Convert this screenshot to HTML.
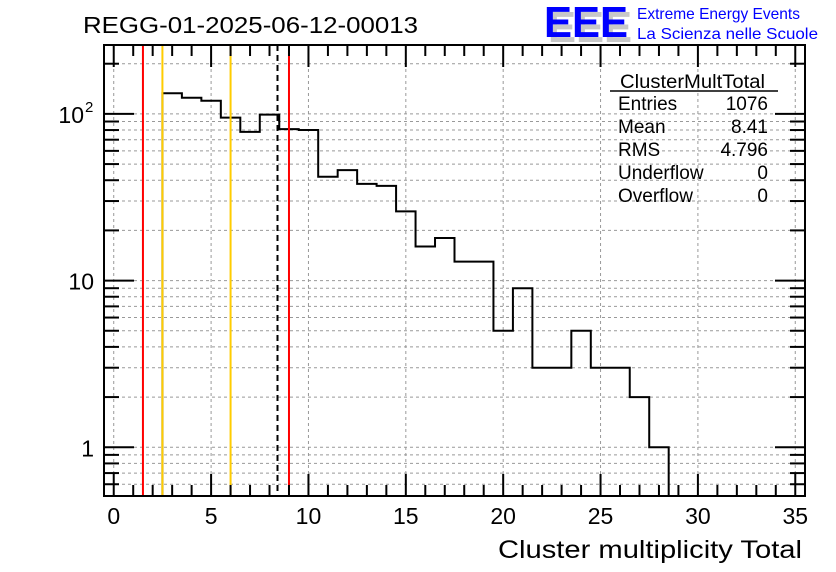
<!DOCTYPE html>
<html><head><meta charset="utf-8"><style>
body{margin:0;background:#fff;}
svg{display:block;font-family:"Liberation Sans",Arial,sans-serif;}
</style></head><body>
<svg id="c" width="836" height="572">
<text x="83" y="33" font-size="23" textLength="335" lengthAdjust="spacingAndGlyphs">REGG-01-2025-06-12-00013</text>
<g>
<text x="548" y="42" font-size="44" font-weight="bold" fill="#c8c8c8" textLength="84" lengthAdjust="spacingAndGlyphs">EEE</text>
<text x="544" y="37" font-size="44" font-weight="bold" fill="#0000ff" textLength="84" lengthAdjust="spacingAndGlyphs">EEE</text>
<text x="637" y="19" font-size="16" fill="#0000ff" textLength="163" lengthAdjust="spacingAndGlyphs">Extreme Energy Events</text>
<text x="637" y="39" font-size="16" fill="#0000ff" textLength="181" lengthAdjust="spacingAndGlyphs">La Scienza nelle Scuole</text>
</g>
<g id="grid"></g>
<g id="marks"></g>
<g id="axes"></g>
<g font-size="19">
<text x="620" y="88" textLength="145" lengthAdjust="spacingAndGlyphs">ClusterMultTotal</text>
<line x1="610" y1="91" x2="778" y2="91" stroke="#000" stroke-width="1.5"/>
<text x="618" y="110">Entries</text><text x="768" y="110" text-anchor="end">1076</text>
<text x="618" y="133">Mean</text><text x="768" y="133" text-anchor="end">8.41</text>
<text x="618" y="156">RMS</text><text x="768" y="156" text-anchor="end">4.796</text>
<text x="618" y="179">Underflow</text><text x="768" y="179" text-anchor="end">0</text>
<text x="618" y="202">Overflow</text><text x="768" y="202" text-anchor="end">0</text>
</g>
<text x="802" y="558" font-size="25" text-anchor="end" textLength="304" lengthAdjust="spacingAndGlyphs">Cluster multiplicity Total</text>
</svg>
<script>
const binCenters=[3,4,5,6,7,8,9,10,11,12,13,14,15,16,17,18,19,20,21,22,23,24,25,26,27,28];
const binCounts=[133,125,120,95,78,99,81,80,42,46,38,37,26,16,18,13,13,5,9,3,3,5,3,3,2,1];
const xTicks=[0,5,10,15,20,25,30,35];
const yTicks=[1,10,100];
const yTickBase=["1","10","10"];
const yTickExp=["","","2"];
const vLines=[{x:1.5,c:"#ff0000",d:""},{x:2.5,c:"#ffcc00",d:""},{x:6,c:"#ffcc00",d:""},{x:8.41,c:"#000",d:"6,4"},{x:9,c:"#ff0000",d:""}];

const L=104,R=805,T=45,B=496,X0=-0.5,X1=35.5,Y0=Math.log10(0.51),Y1=Math.log10(259);
const sx=v=>L+(v-X0)/(X1-X0)*(R-L);
const sy=v=>B-(Math.log10(v)-Y0)/(Y1-Y0)*(B-T);
const NS="http://www.w3.org/2000/svg";
function mk(p,t,a){const e=document.createElementNS(NS,t);for(const k in a)e.setAttribute(k,a[k]);p.appendChild(e);return e;}
const grid=document.getElementById('grid'),marks=document.getElementById('marks'),axes=document.getElementById('axes');
xTicks.forEach(t=>{const g=mk(grid,'line',{x1:sx(t),x2:sx(t),y1:T,y2:B,stroke:'#999','stroke-dasharray':'3,3','stroke-width':1});

});
const minors=[];
for(let d=-1;d<=2;d++)for(let m=1;m<=9;m++){const v=m*Math.pow(10,d);if(v>=0.51&&v<=259)minors.push(v);}
minors.forEach(v=>{const g=mk(grid,'line',{x1:L,x2:R,y1:sy(v),y2:sy(v),stroke:'#999','stroke-dasharray':'3,3','stroke-width':1});


const major=[1,10,100].includes(v);
const t1=mk(axes,'line',{x1:L,x2:L+(major?30:15),y1:sy(v),y2:sy(v),stroke:'#000','stroke-width':2});


const t2=mk(axes,'line',{x1:R,x2:R-(major?30:15),y1:sy(v),y2:sy(v),stroke:'#000','stroke-width':2});

});
let d=`M${sx(binCenters[0]-0.5)},${B}`;
binCenters.forEach((c,i)=>{d+=` L${sx(c-0.5)},${sy(binCounts[i])} L${sx(c+0.5)},${sy(binCounts[i])}`;});
d+=` L${sx(binCenters[binCenters.length-1]+0.5)},${B}`;
const h=mk(marks,'path',{d:d,fill:'none',stroke:'#000','stroke-width':2});


vLines.forEach(l=>{const e=mk(marks,'line',{x1:sx(l.x),x2:sx(l.x),y1:T,y2:B,stroke:l.c,'stroke-width':2,'stroke-dasharray':l.d});

});
const f=mk(axes,'rect',{x:L,y:T,width:R-L,height:B-T,fill:'none',stroke:'#000','stroke-width':2});


for(let t=0;t<=35;t++){const big=t%5===0;
const a=mk(axes,'line',{x1:sx(t),x2:sx(t),y1:B,y2:B-(big?22:11),stroke:'#000','stroke-width':2});


const b=mk(axes,'line',{x1:sx(t),x2:sx(t),y1:T,y2:T+(big?22:11),stroke:'#000','stroke-width':2});

}
xTicks.forEach(t=>{const e=mk(axes,'text',{x:sx(t),y:524,'font-size':23,'text-anchor':'middle'});e.textContent=t;

});
yTicks.forEach((t,i)=>{const e=mk(axes,'text',{x:yTickExp[i]?84:94,y:sy(t)+9,'font-size':23,'text-anchor':'end'});e.textContent=yTickBase[i];


if(yTickExp[i]){const s=mk(axes,'text',{x:85,y:sy(t)-2,'font-size':15});s.textContent=yTickExp[i];

}});
</script>
</body></html>
